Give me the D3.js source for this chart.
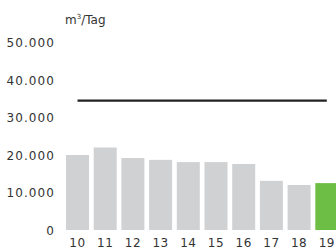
<!DOCTYPE html>
<html><head><meta charset="utf-8">
<script src="https://cdn.jsdelivr.net/npm/d3@7"></script>
<style>html,body{margin:0;padding:0;background:#fff;overflow:hidden}</style>
</head><body>
<svg id="c" width="336" height="250"></svg>
<script>
const categories = ["10","11","12","13","14","15","16","17","18","19"];
const values = [20000, 22000, 19200, 18700, 18100, 18100, 17600, 13100, 12000, 12500];
const lineValues = [34500, 34500, 34500, 34500, 34500, 34500, 34500, 34500, 34500, 34500];
const yTicks = [0, 10000, 20000, 30000, 40000, 50000];
const highlight = "19";

const svg = d3.select("#c");
const x = d3.scaleBand().domain(categories).range([63.65, 340.65]).paddingInner(0.17).paddingOuter(0.085);
const y = d3.scaleLinear().domain([0, 50000]).range([230, 42.5]);
const fmt = d => d3.format(",")(d).replace(/,/g, ".");
const font = "DejaVu Sans, sans-serif";

svg.selectAll("rect.bar").data(categories).join("rect")
  .attr("x", d => x(d)).attr("width", x.bandwidth())
  .attr("y", (d,i) => y(values[i])).attr("height", (d,i) => y(0) - y(values[i]))
  .attr("fill", d => d === highlight ? "#6dbe45" : "#d0d1d3");

const line = d3.line().x((d,i) => x(categories[i]) + x.bandwidth()/2).y(d => y(d));
svg.append("path").datum(lineValues).attr("d", line)
  .attr("fill", "none").attr("stroke", "#222").attr("stroke-width", 2.4);

const yAxis = d3.axisLeft(y).tickValues(yTicks).tickFormat(fmt).tickSize(0).tickPadding(0);
const gy = svg.append("g").attr("transform", "translate(55,0)").call(yAxis);
gy.select(".domain").remove();
gy.selectAll("text").attr("font-family", font).attr("font-size", 12).attr("fill", "#333")
  .attr("letter-spacing", 1.1).attr("dy", "0.36em");

const xAxis = d3.axisBottom(x).tickSize(0).tickPadding(0);
const gx = svg.append("g").attr("transform", "translate(0,238)").call(xAxis);
gx.select(".domain").remove();
gx.selectAll("text").attr("font-family", font).attr("font-size", 12).attr("fill", "#333")
  .attr("letter-spacing", 0.5).attr("dy", "0.71em");

const unit = svg.append("text").attr("x", 65).attr("y", 24)
  .attr("font-family", font).attr("font-size", 12).attr("fill", "#333");
unit.append("tspan").text("m");
unit.append("tspan").attr("dy", -5).attr("font-size", 7).text("3");
unit.append("tspan").attr("dy", 5).text("/Tag");
</script>
</body></html>
